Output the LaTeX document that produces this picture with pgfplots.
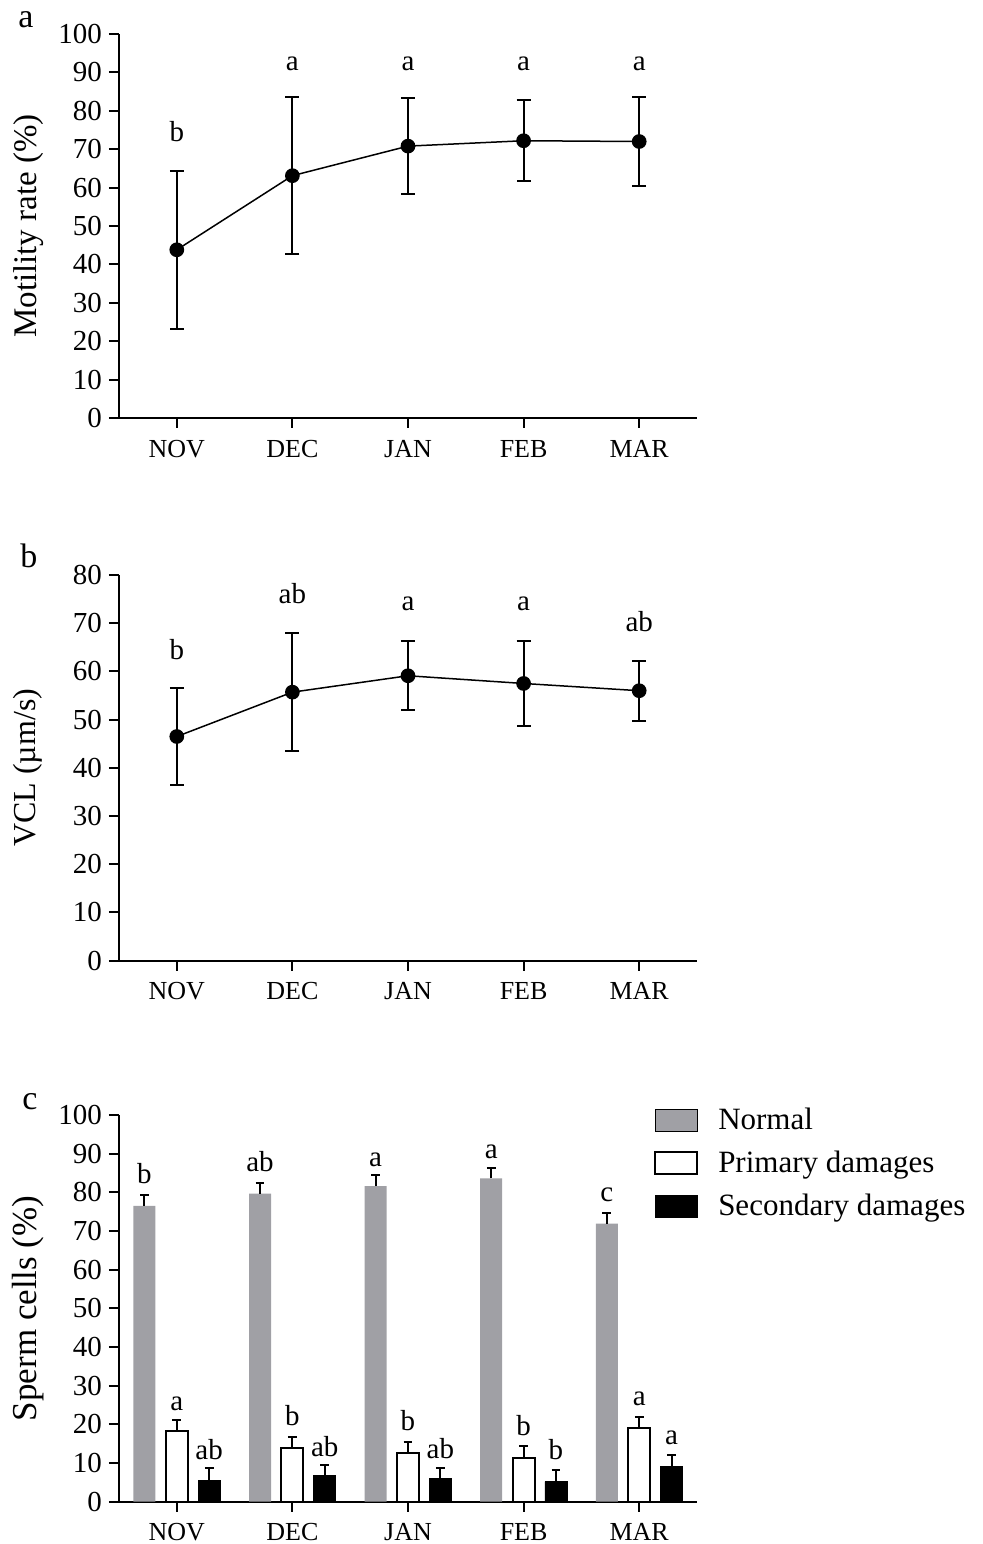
\documentclass[border=0pt]{standalone}
\usepackage{fontspec}
\setmainfont{Liberation Serif}
\usepackage{pgfplots}
\usepackage{pgfplotstable}
\pgfplotsset{compat=1.18}
\definecolor{normalgray}{RGB}{160,160,165}

\pgfplotstableread{
x y e
0 43.8 20.6
1 63.1 20.4
2 70.8 12.5
3 72.2 10.6
4 72.0 11.6
}\motility
\pgfplotstableread{
x y e
0 46.5 10.1
1 55.7 12.2
2 59.1 7.2
3 57.5 8.9
4 56.0 6.2
}\vcl
\pgfplotstableread{
x y e
0 76.5 2.8
1 79.7 2.7
2 81.6 3.0
3 83.6 2.8
4 71.9 2.8
}\normal
\pgfplotstableread{
x y e
0 18.3 2.8
1 14.0 2.8
2 12.6 2.9
3 11.4 3.0
4 19.1 2.9
}\primary
\pgfplotstableread{
x y e
0 5.6 3.0
1 6.7 2.8
2 6.1 2.7
3 5.2 3.0
4 9.2 2.8
}\secondary

\pgfplotsset{
  panel/.style={
    scale only axis, width=289pt,
    axis lines=left, axis line style={-, line width=1.1pt},
    xmin=-0.5, xmax=4.5, ymin=0,
    xtick={0,...,4}, xticklabels={NOV,DEC,JAN,FEB,MAR},
    tick align=outside, major tick length=5pt,
    tick style={line width=1pt, black},
    minor tick num=0,
    /pgf/number format/assume math mode=true,
    yticklabel style={font=\fontsize{14.5}{16}\selectfont},
    xticklabel style={font=\fontsize{13}{15}\selectfont, yshift=-2.5pt},
    every axis y label/.style={at={(axis description cs:-0.157,0.5)}, rotate=90, anchor=center},
    clip=false,
  },
  linestyle/.style={black, line width=0.75pt, mark=*, mark size=3.3pt, mark options={fill=black},
    error bars/.cd, y dir=both, y explicit, error mark=|,
    error bar style={line width=1pt, black},
    error mark options={mark size=3.5pt, line width=1pt, black}},
  sq/.style={legend image code/.code={\draw[##1] (0pt,-5.5pt) rectangle (21pt,5.5pt);}},
  barerr/.style={error bars/.cd, y dir=plus, y explicit, error mark=|,
    error bar style={draw=black, line width=1pt},
    error mark options={draw=black, mark size=2.2pt, line width=1pt}},
}
\tikzset{lett/.style={anchor=base, font=\fontsize{14.5}{16}\selectfont}}

\begin{document}
\begin{tikzpicture}
\useasboundingbox (0,0) rectangle (491pt,772pt);

% panel letters
\node[anchor=base west, inner sep=0pt, font=\fontsize{17}{19}\selectfont] at (9pt,758pt) {a};
\node[anchor=base west, inner sep=0pt, font=\fontsize{17}{19}\selectfont] at (10pt,488pt) {b};
\node[anchor=base west, inner sep=0pt, font=\fontsize{17}{19}\selectfont] at (11pt,217pt) {c};

% a
\begin{axis}[panel, at={(59.5pt,563pt)}, anchor=south west, height=192pt,
  ymax=100, ytick={0,10,...,100},
  ylabel={\fontsize{16.5}{18}\selectfont Motility rate (\%)}]
\addplot[linestyle] table[x=x, y=y, y error=e] {\motility};
\node[lett] at (axis cs:0,72.0) {b};
\node[lett] at (axis cs:1,90.4) {a};
\node[lett] at (axis cs:2,90.4) {a};
\node[lett] at (axis cs:3,90.4) {a};
\node[lett] at (axis cs:4,90.4) {a};
\end{axis}

% b
\begin{axis}[panel, at={(59.5pt,291.65pt)}, anchor=south west, height=192.85pt,
  ymax=80, ytick={0,10,...,80},
  ylabel={\fontsize{16}{18}\selectfont VCL (µm/s)}]
\addplot[linestyle] table[x=x, y=y, y error=e] {\vcl};
\node[lett] at (axis cs:0,62.5) {b};
\node[lett] at (axis cs:1,74.1) {ab};
\node[lett] at (axis cs:2,72.6) {a};
\node[lett] at (axis cs:3,72.6) {a};
\node[lett] at (axis cs:4,68.3) {ab};
\end{axis}

% c
\begin{axis}[panel, at={(59.5pt,21.15pt)}, anchor=south west, height=193.35pt,
  ymax=100, ytick={0,10,...,100},
  ylabel={\fontsize{17.5}{19}\selectfont Sperm cells (\%)},
  legend style={draw=none, fill=none, at={(rel axis cs:0.915,1.04)}, anchor=north west,
    font=\fontsize{15.5}{18}\selectfont, row sep=5.2pt,
    /tikz/every odd column/.append style={column sep=8pt}},
  legend cell align=left]
\addplot[ybar, bar width=11pt, bar shift=0pt, fill=normalgray, draw=none, sq, barerr]
  table[x expr=\thisrow{x}-0.28, y=y, y error=e] {\normal};
\addplot[ybar, bar width=11pt, bar shift=0pt, fill=white, draw=black, line width=1pt, sq, barerr]
  table[x=x, y=y, y error=e] {\primary};
\addplot[ybar, bar width=11pt, bar shift=0pt, fill=black, draw=black, sq, barerr]
  table[x expr=\thisrow{x}+0.28, y=y, y error=e] {\secondary};
\legend{Normal, Primary damages, Secondary damages}
\node[lett] at (axis cs:-0.28,82.4) {b};
\node[lett] at (axis cs:0.72,85.3) {ab};
\node[lett] at (axis cs:1.72,86.8) {a};
\node[lett] at (axis cs:2.72,88.8) {a};
\node[lett] at (axis cs:3.72,77.6) {c};
\node[lett] at (axis cs:0,23.7) {a};
\node[lett] at (axis cs:1,19.8) {b};
\node[lett] at (axis cs:2,18.5) {b};
\node[lett] at (axis cs:3,17.2) {b};
\node[lett] at (axis cs:4,25.0) {a};
\node[lett] at (axis cs:0.28,11.0) {ab};
\node[lett] at (axis cs:1.28,11.6) {ab};
\node[lett] at (axis cs:2.28,11.2) {ab};
\node[lett] at (axis cs:3.28,10.8) {b};
\node[lett] at (axis cs:4.28,14.7) {a};
\end{axis}
\end{tikzpicture}
\end{document}
